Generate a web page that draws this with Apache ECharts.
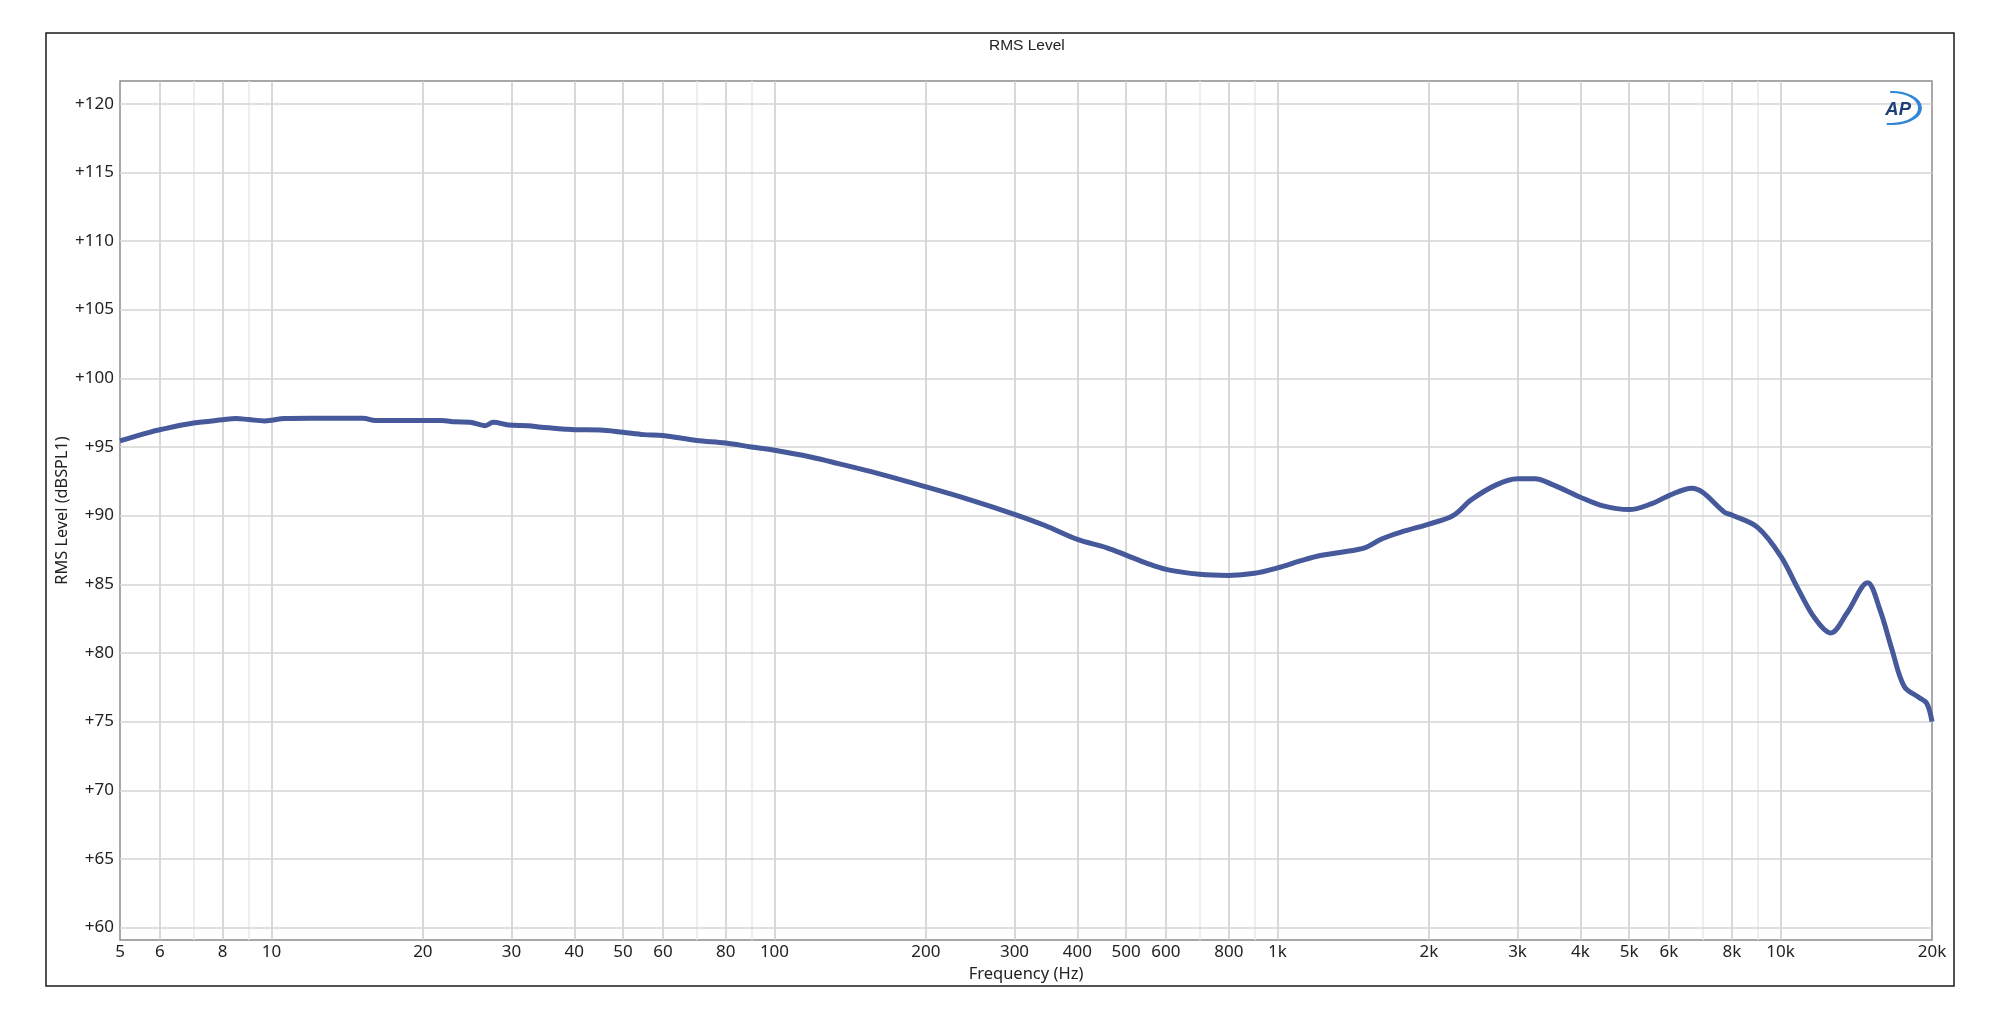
<!DOCTYPE html>
<html>
<head>
<meta charset="utf-8">
<script src="https://cdn.jsdelivr.net/npm/echarts@6/dist/echarts.min.js"></script>
<style>html,body{margin:0;padding:0;background:#fff}#c{width:2000px;height:1021px}</style>
</head>
<body>
<div id="c"></div>
<script>
const freqHz = [5, 5.72, 6, 7, 8, 8.5, 9, 9.7, 10, 10.6, 12, 15.2, 16.1, 20, 21.8, 23.2, 24.8, 26.6, 27.6, 29.6, 32.4, 34.4, 38.4, 40, 45, 50, 55, 60, 70, 80, 90, 100, 118, 134, 161, 200, 244, 300, 344, 400, 458, 500, 550, 600, 700, 800, 900, 1000, 1109, 1216, 1330, 1495, 1610, 1769, 2000, 2233, 2431, 2722, 3000, 3247, 3532, 4000, 4418, 5000, 5529, 6000, 6667, 7000, 7744, 8000, 9000, 10000, 10847, 11683, 12583, 13565, 14890, 15750, 16655, 17613, 18813, 19521, 20000];
const rmsLevel = [95.45, 96.07, 96.26, 96.74, 96.98, 97.07, 97.0, 96.9, 96.95, 97.07, 97.1, 97.1, 96.93, 96.93, 96.93, 96.83, 96.8, 96.55, 96.8, 96.6, 96.55, 96.43, 96.3, 96.26, 96.24, 96.07, 95.9, 95.83, 95.48, 95.29, 95.0, 94.76, 94.27, 93.79, 93.06, 92.1, 91.17, 90.1, 89.3, 88.27, 87.66, 87.13, 86.53, 86.09, 85.73, 85.65, 85.8, 86.2, 86.7, 87.1, 87.32, 87.68, 88.3, 88.83, 89.39, 90.0, 91.17, 92.24, 92.68, 92.68, 92.24, 91.34, 90.73, 90.44, 90.85, 91.46, 92.0, 91.7, 90.24, 90.05, 89.15, 87.07, 84.63, 82.56, 81.46, 82.93, 85.12, 83.17, 80.24, 77.56, 76.78, 76.34, 75.0];
const xTickValues = [5, 6, 8, 10, 20, 30, 40, 50, 60, 80, 100, 200, 300, 400, 500, 600, 800, 1000, 2000, 3000, 4000, 5000, 6000, 8000, 10000, 20000];
const xMinorGrid = [7, 9, 70, 90, 700, 900, 7000, 9000];
const yTickValues = [60, 65, 70, 75, 80, 85, 90, 95, 100, 105, 110, 115, 120];

const xMajorGrid = xTickValues.filter(v => v > 5 && v < 20000);
const gridLines = [];
xMajorGrid.forEach(v => gridLines.push({xAxis: v, lineStyle: {color: '#cdcdcd', width: 1.5, type: 'solid'}}));
xMinorGrid.forEach(v => gridLines.push({xAxis: v, lineStyle: {color: '#e8e8e8', width: 1.5, type: 'solid'}}));
yTickValues.forEach(v => gridLines.push({yAxis: v, lineStyle: {color: '#d4d4d4', width: 1.5, type: 'solid'}}));

const fmtHz = v => {
  const r = Math.round(v);
  return r >= 1000 ? (r / 1000) + 'k' : String(r);
};

const chart = echarts.init(document.getElementById('c'), null, {renderer: 'canvas'});
chart.setOption({
  animation: false,
  backgroundColor: '#ffffff',
  title: {
    text: 'RMS Level', left: 984, top: 33,
    textStyle: {fontFamily: 'Liberation Sans', fontSize: 15.5, fontWeight: 'normal', color: '#222'}
  },
  grid: {left: 120, top: 81, right: 68, bottom: 81, show: true, borderColor: '#8c8c8c', borderWidth: 1.5, backgroundColor: '#fff'},
  xAxis: {
    type: 'log', logBase: 10, min: 5, max: 20000,
    name: 'Frequency (Hz)', nameLocation: 'middle', nameGap: 23,
    nameTextStyle: {fontFamily: 'Noto Sans', fontSize: 16.5, color: '#222'},
    axisLine: {show: false}, axisTick: {show: false}, splitLine: {show: false}, minorSplitLine: {show: false},
    axisLabel: {customValues: xTickValues, formatter: fmtHz, fontFamily: 'Noto Sans', fontSize: 17, color: '#222', margin: 4}
  },
  yAxis: {
    type: 'value', min: 59.1, max: 121.65,
    name: 'RMS Level (dBSPL1)', nameLocation: 'middle', nameGap: 50, nameRotate: 90, nameMoveOverlap: false,
    nameTextStyle: {fontFamily: 'Noto Sans', fontSize: 16.3, color: '#222'},
    axisLine: {show: false}, axisTick: {show: false}, splitLine: {show: false},
    axisLabel: {customValues: yTickValues, formatter: v => '+' + Math.round(v), fontFamily: 'Noto Sans', fontSize: 17, color: '#222', margin: 6}
  },
  graphic: [
    {type: 'rect', shape: {x: 46, y: 33, width: 1908, height: 953}, style: {fill: 'none', stroke: '#1a1a1a', lineWidth: 1.5}, silent: true, z: -1},
    {type: 'arc', x: 1892, y: 108, scaleX: 1.75, scaleY: 1, shape: {cx: 0, cy: 0, r: 16, startAngle: -Math.PI * 0.52, endAngle: Math.PI * 0.56}, style: {stroke: '#2f86d6', lineWidth: 2.2, fill: 'none'}, z: 10},
    {type: 'text', x: 1911, y: 110, style: {text: 'AP', fontFamily: 'Liberation Sans', fontSize: 18.5, fontWeight: 'bold', fontStyle: 'italic', fill: '#1c3f77', textAlign: 'right', textVerticalAlign: 'middle'}, z: 11}
  ],
  series: [{
    type: 'line', data: freqHz.map((f, i) => [f, rmsLevel[i]]),
    showSymbol: false, smooth: 0.35, z: 5,
    lineStyle: {color: '#45599b', width: 5},
    markLine: {silent: true, symbol: ['none', 'none'], label: {show: false}, z: 1, data: gridLines, animation: false}
  }]
});
</script>
</body>
</html>
